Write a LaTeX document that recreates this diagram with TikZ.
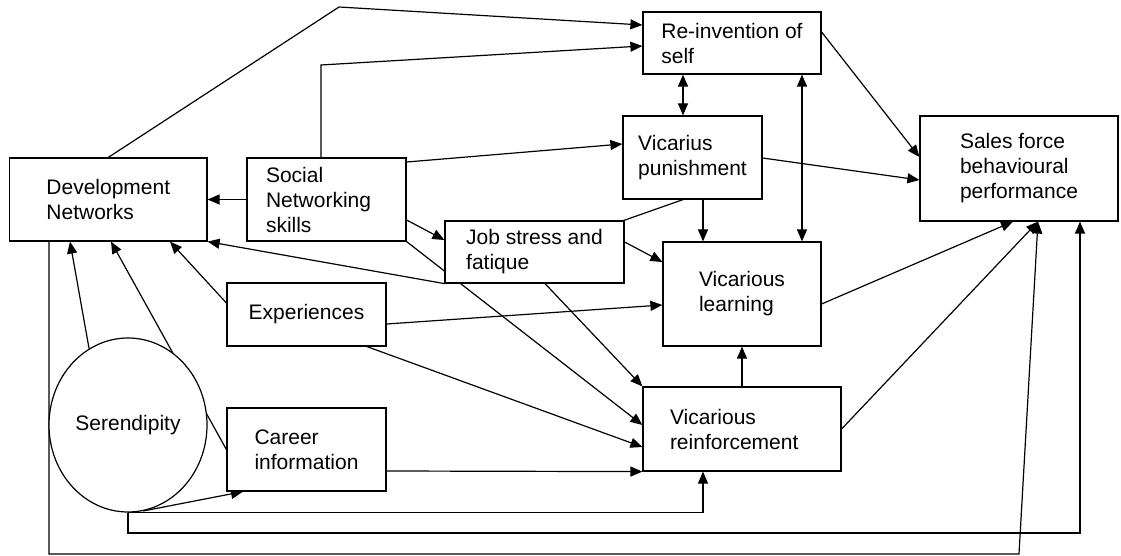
\documentclass[tikz,border=0pt]{standalone}
\usepackage{fontspec}
\setmainfont{Liberation Sans}
\usetikzlibrary{arrows.meta, shapes.geometric, backgrounds}

\begin{document}
\begin{tikzpicture}[x=0.5pt, y=-0.5pt,
  box/.style={draw, fill=white, line width=0.6pt, align=left, inner sep=0pt, font=\fontsize{10.5}{12.5}\selectfont},
  link/.style={line width=0.6pt, -{Triangle[length=6pt, width=5pt]}},
  twoway/.style={line width=0.6pt, {Triangle[length=6pt, width=5pt]}-{Triangle[length=6pt, width=5pt]}}]
  \useasboundingbox (0,0) rectangle (1121,556);

  % factors
  \node[box, minimum width=98.7pt, minimum height=41.5pt] (dev) at (108.3,199.5) {Development\\Networks};
  \node[box, minimum width=79.5pt, minimum height=41.5pt, inner xsep=9.5pt, text width=60.5pt] (soc) at (326.5,199.5) {Social\\Networking\\skills};
  \node[box, minimum width=89pt, minimum height=31pt] (reinv) at (732,43) {Re-invention of\\self};
  \node[box, minimum width=69.5pt, minimum height=41.5pt] (vp) at (692.5,157.5) {Vicarius\\punishment};
  \node[box, minimum width=99pt, minimum height=52.5pt] (sales) at (1019,168.5) {Sales force\\behavioural\\performance};
  \node[box, minimum width=89.5pt, minimum height=31pt] (js) at (534.5,252) {Job stress and\\fatique};
  \node[box, minimum width=79pt, minimum height=52pt] (vl) at (742,294) {Vicarious\\learning};
  \node[box, minimum width=99pt, minimum height=42pt, inner xsep=13.5pt, text width=72pt] (vr) at (742,429) {Vicarious\\reinforcement};
  \node[box, minimum width=79.5pt, minimum height=31.5pt] (exp) at (306.5,314.5) {Experiences};
  \node[box, minimum width=79.5pt, minimum height=41.5pt] (car) at (306.5,449.5) {Career\\information};
  \node[box, ellipse, minimum width=79pt, minimum height=87pt] (ser) at (128,425) {Serendipity};

  % links (behind the boxes)
  \begin{scope}[on background layer]
    \draw[link] (dev.north) -- (339,7) -- (reinv.west |- 0,25);
    \draw[link] (soc.north -| 321,0) -- (321,65) -- (reinv.west |- 0,46);
    \draw[link] (soc.east |- 0,162) -- (vp.west |- 0,144);
    \draw[link] (soc.west) -- (dev.east);
    \draw[link] (soc.east |- 0,220) -- (js.west |- 0,240);
    \draw[link] (soc.south east) -- (vr.west |- 0,425);
    \draw[link] (vp.south -| 683,0) -- (js.south west) -- (dev.south east);
    \draw[link] (reinv.east |- 0,32) -- (sales.west |- 0,157);
    \draw[link] (vp.east |- 0,158) -- (sales.west |- 0,180);
    \draw[twoway] (reinv.south -| 683,0) -- (vp.north -| 683,0);
    \draw[twoway] (reinv.south -| 802,0) -- (vl.north -| 802,0);
    \draw[link] (vp.south -| 703,0) -- (vl.north -| 703,0);
    \draw[link] (js.east |- 0,242) -- (vl.west |- 0,262);
    \draw[link] (js.south -| 545,0) -- (vr.north west);
    \draw[link] (vl.east |- 0,304) -- (sales.south -| 1013,0);
    \draw[link] (vr.east |- 0,429) -- (sales.south -| 1038,0);
    \draw[link] (vr.north) -- (vl.south);
    \draw[link] (exp.east |- 0,324) -- (vl.west |- 0,305);
    \draw[link] (exp.south -| 367,0) -- (vr.west |- 0,447);
    \draw[link] (car.east |- 0,471) -- (vr.south west);
    \draw[link] (exp.west |- 0,303) -- (dev.south -| 170,0);
    \draw[link] (car.west) -- (dev.south -| 111,0);
    \draw[link] (ser.117) -- (dev.south -| 70,0);
    \draw[link] (ser.-80) -- (car.south -| 243,0);
    \draw[link] (ser.south) -| (vr.south -| 703,0);
    \draw[link] (ser.south) -- (ser.south |- 0,533) -| (sales.south -| 1080,0);
    \draw[link] (dev.south -| 49,0) -- (49,554) -- (1019,554) -- (sales.south -| 1038,0);
  \end{scope}
\end{tikzpicture}
\end{document}
